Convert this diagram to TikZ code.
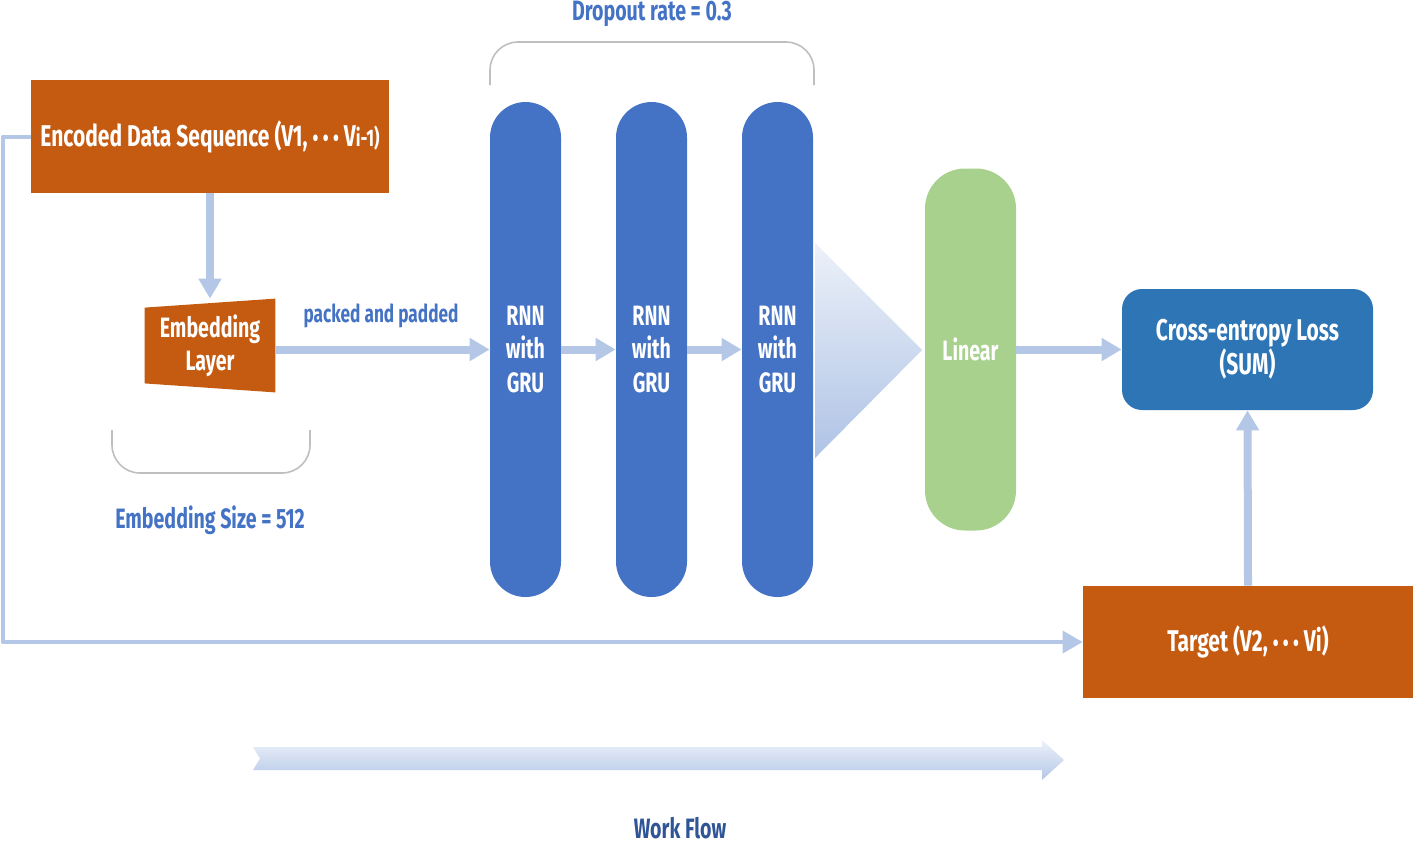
\documentclass[tikz,border=0pt]{standalone}
\usepackage{fontspec}
\setmainfont{Fira Sans}[FakeStretch=0.7]
\usetikzlibrary{arrows.meta,calc,backgrounds}
\definecolor{rust}{HTML}{C55A11}
\definecolor{rnnblue}{HTML}{4472C4}
\definecolor{lossblue}{HTML}{2E75B6}
\definecolor{lingreen}{HTML}{A9D18E}
\definecolor{flowblue}{HTML}{B4C7E7}
\definecolor{labelblue}{HTML}{4472C4}
\definecolor{darkblue}{HTML}{2F5597}
\newcommand{\dotsmid}{{\fontsize{12}{12}\selectfont •\kern2.2pt•\kern2.2pt•}}
\tikzset{
  box/.style={fill=rust, text=white, font=\bfseries\fontsize{15}{17}\selectfont, align=center},
  rnn/.style={fill=rnnblue, text=white, rounded corners=17.75pt, minimum width=35.5pt, minimum height=247.5pt, font=\bfseries\fontsize{14}{16.75}\selectfont, align=center},
  flow/.style={draw=flowblue, line width=4pt, -{Triangle[length=10pt,width=11pt]}},
  bracket/.style={draw=black!25, line width=0.8pt, rounded corners=14pt},
  tag/.style={text=labelblue, font=\bfseries\fontsize{14}{16}\selectfont}
}
\begin{document}
\begin{tikzpicture}[x=0.5pt, y=-0.5pt, line join=round]
    \useasboundingbox (0,0) rectangle (1416,843);

    % input and target
    \node[box, minimum width=179pt, minimum height=56.5pt] (enc) at (210,136.5) {Encoded Data Sequence (V1, \dotsmid{} V{\fontsize{12}{14}\selectfont i-1)}};
    \node[box, minimum width=165pt, minimum height=56pt] (tgt) at (1248,642) {Target (V2, \dotsmid{} Vi)};

    % embedding
    \node[text=white, font=\bfseries\fontsize{14}{16.5}\selectfont, align=center, minimum width=65pt, minimum height=46.5pt] (emb) at (210,345.5) {Embedding\\Layer};
    \begin{scope}[on background layer]
        \fill[rust] ($(emb.north west)+(0,9)$) -- (emb.north east) -- (emb.south east) -- ($(emb.south west)+(0,-9)$) -- cycle;
    \end{scope}

    % recurrent layers
    \node[rnn] (rnn1) at (525.5,349.5) {RNN\\with\\GRU};
    \node[rnn] (rnn2) at (651.5,349.5) {RNN\\with\\GRU};
    \node[rnn] (rnn3) at (777.5,349.5) {RNN\\with\\GRU};

    \shade[top color=flowblue!25, bottom color=flowblue!95!rnnblue] (815,243) -- (922,350) -- (815,458) -- cycle;

    \node[fill=lingreen, text=white, rounded corners=20pt, minimum width=45.5pt, minimum height=181pt, font=\bfseries\fontsize{14}{17}\selectfont] (lin) at (970.5,349.5) {Linear};
    \node[fill=lossblue, text=white, rounded corners=10pt, minimum width=125.5pt, minimum height=60.5pt, font=\bfseries\fontsize{15}{17}\selectfont, align=center] (loss) at (1247.5,349.5) {Cross-entropy Loss\\(SUM)};

    % connectors
    \draw[flow] (enc.south) -- (emb.north);
    \draw[flow] (emb.east |- rnn1.west) -- (rnn1.west);
    \draw[flow] (rnn1.east) -- (rnn2.west);
    \draw[flow] (rnn2.east) -- (rnn3.west);
    \draw[flow] (lin.east) -- (loss.west);
    \draw[flow] (tgt.north) -- (loss.south);
    \draw[flow, line width=2pt] (enc.west) -- ++(-28,0) |- (tgt.west);

    % brackets and labels
    \draw[bracket] (490,85) |- (652,42) -| (814,85);
    \draw[bracket] (112,430) |- (210,473) -| (310,430);
    \node[tag] (drop) at (652,14) {Dropout rate = 0.3};
    \node[tag] (embsize) at (210,520) {Embedding Size = 512};
    \node[tag, font=\bfseries\fontsize{12.3}{14}\selectfont] (packed) at (381,316) {packed and padded};

    % work flow
    \shade[top color=flowblue!25, bottom color=flowblue] (253,747) -- (1042,747) -- (1042,740) -- (1064,760) -- (1042,780) -- (1042,770) -- (253,770) -- (260,758.5) -- cycle;
    \node[tag, text=darkblue] (wf) at (680,828) {Work Flow};
\end{tikzpicture}
\end{document}
